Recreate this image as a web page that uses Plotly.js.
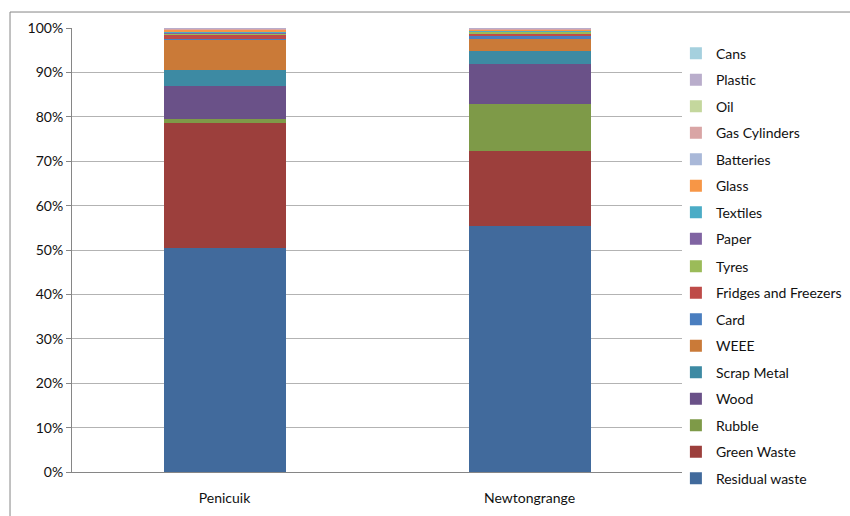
<!DOCTYPE html>
<html>
<head>
<meta charset="utf-8">
<script src="https://cdn.plot.ly/plotly-3.0.1.min.js"></script>
<style>
  html, body { margin: 0; padding: 0; background: #fff; }
  #chart { width: 850px; height: 516px; }
</style>
</head>
<body>
<div id="chart"></div>
<script>
// Household waste recycling centres: share of each material stream (%)
const sites = ["Penicuik", "Newtongrange"];

const streams = [
  "Residual waste", "Green Waste", "Rubble", "Wood", "Scrap Metal", "WEEE",
  "Card", "Fridges and Freezers", "Tyres", "Paper", "Textiles", "Glass",
  "Batteries", "Gas Cylinders", "Oil", "Plastic", "Cans"
];

const penicuik = [50.5, 28.0, 1.0, 7.5, 3.5, 6.8, 0.2, 1.0, 0.1, 0.2, 0.4, 0.3, 0.1, 0.1, 0.1, 0.1, 0.1];
const newtongrange = [55.3, 17.0, 10.6, 8.9, 3.0, 2.7, 0.8, 0.4, 0.4, 0.1, 0.2, 0.1, 0.1, 0.1, 0.1, 0.1, 0.1];

const streamColors = [
  "#416A9C", "#9C3F3C", "#7E9A48", "#6A5188", "#3D8AA3", "#CA7A38",
  "#4A7EBF", "#BE4B48", "#9BBB59", "#8064A2", "#4BACC6", "#F79646",
  "#A9B8D8", "#D9A5A5", "#C4D79D", "#B9ADCB", "#A5D0DE"
];

const yTickVals = [0, 10, 20, 30, 40, 50, 60, 70, 80, 90, 100];
const yTickText = ["0%", "10%", "20%", "30%", "40%", "50%", "60%", "70%", "80%", "90%", "100%"];

const FONT = "Lato, 'Open Sans', sans-serif";
const TEXT = "#111111";

// The key is split over two stacked legend boxes so the long list fits
// beside the plot without scrolling; the top of the stack is listed first.
const SPLIT = 9; // streams with index >= SPLIT go in the upper box

const traces = streams.map((name, i) => ({
  type: "bar",
  name: name,
  x: sites,
  y: [penicuik[i], newtongrange[i]],
  legendgroup: name,
  legend: i >= SPLIT ? "legend" : "legend2",
  legendrank: streams.length - i,
  marker: { color: streamColors[i], line: { width: 0 } },
  hovertemplate: "%{x}<br>" + name + ": %{y:.1f}%<extra></extra>"
}));

const legendStyle = {
  traceorder: "grouped",
  tracegroupgap: 5.3,
  x: 0.99, xanchor: "left",
  yanchor: "top",
  font: { family: FONT, size: 14, color: TEXT },
  bgcolor: "rgba(0,0,0,0)"
};

const layout = {
  width: 850,
  height: 516,
  barmode: "stack",
  bargap: 0.6,
  margin: { l: 72, r: 168, t: 28, b: 44, autoexpand: false },
  paper_bgcolor: "#ffffff",
  plot_bgcolor: "#ffffff",
  font: { family: FONT, size: 14, color: TEXT },
  showlegend: true,
  legend: Object.assign({}, legendStyle, { y: 0.978 }),
  legend2: Object.assign({}, legendStyle, { y: 0.4986 }),
  xaxis: {
    type: "category",
    showgrid: false,
    showline: true,
    linecolor: "#868686",
    linewidth: 1,
    ticks: "",
    ticklabelstandoff: 13,
    tickfont: { family: FONT, size: 14, color: TEXT },
    fixedrange: true
  },
  yaxis: {
    range: [0, 100],
    tickvals: yTickVals,
    ticktext: yTickText,
    showgrid: true,
    gridcolor: "#b3b3b3",
    gridwidth: 1,
    showline: true,
    linecolor: "#868686",
    linewidth: 1,
    ticks: "outside",
    ticklen: 5,
    tickcolor: "#868686",
    zeroline: false,
    tickfont: { family: FONT, size: 14, color: TEXT },
    fixedrange: true
  },
  shapes: [
    {
      // chart-area frame
      type: "rect", xref: "paper", yref: "paper",
      x0: -0.1016, x1: 1.30, y0: -0.12, y1: 1.036,
      line: { color: "#868686", width: 1 },
      fillcolor: "rgba(0,0,0,0)",
      layer: "below"
    }
  ]
};

Plotly.newPlot("chart", traces, layout, { displayModeBar: false, staticPlot: true });
</script>
</body>
</html>
